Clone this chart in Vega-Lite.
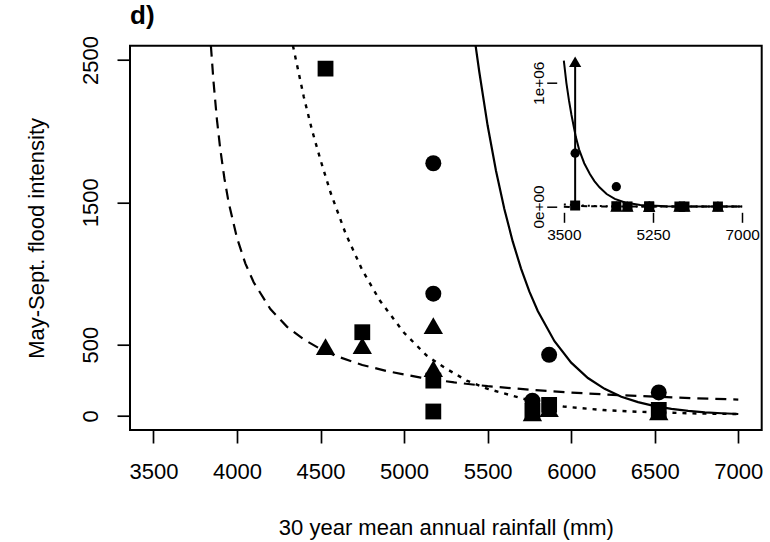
{
  "$schema": "https://vega.github.io/schema/vega-lite/v6.json",
  "width": 631.7,
  "height": 384.3,
  "autosize": {"type": "none"},
  "padding": {"left": 130, "top": 45.7, "right": 8.3, "bottom": 112},
  "background": "white",
  "title": {"text": "d)", "anchor": "start", "frame": "group", "fontSize": 26, "fontWeight": "bold", "font": "Liberation Sans", "color": "black", "baseline": "alphabetic", "offset": 9, "dy": 24},
  "config": {
    "view": {"stroke": "black", "strokeWidth": 2},
    "font": "Liberation Sans",
    "axis": {"labelFont": "Liberation Sans", "titleFont": "Liberation Sans", "labelColor": "black", "titleColor": "black", "tickColor": "black", "domain": false, "grid": false, "titleFontWeight": "normal", "labelOverlap": false}
  },
  "datasets": {
    "points": [
      {"x": 3722, "y": 431000, "g": "circle"},
      {"x": 4530, "y": 160000, "g": "circle"},
      {"x": 5175, "y": 1774, "g": "circle"},
      {"x": 5175, "y": 858, "g": "circle"},
      {"x": 5768, "y": 106, "g": "circle"},
      {"x": 5868, "y": 428, "g": "circle"},
      {"x": 6524, "y": 164, "g": "circle"},
      {"x": 3722, "y": 1170000, "g": "triangle"},
      {"x": 4530, "y": 486, "g": "triangle"},
      {"x": 4750, "y": 493, "g": "triangle"},
      {"x": 5175, "y": 634, "g": "triangle"},
      {"x": 5175, "y": 331, "g": "triangle"},
      {"x": 5768, "y": 21, "g": "triangle"},
      {"x": 5868, "y": 50, "g": "triangle"},
      {"x": 6524, "y": 28, "g": "triangle"},
      {"x": 3722, "y": 8000, "g": "square"},
      {"x": 4530, "y": 2439, "g": "square"},
      {"x": 4750, "y": 587, "g": "square"},
      {"x": 5175, "y": 247, "g": "square"},
      {"x": 5175, "y": 30, "g": "square"},
      {"x": 5768, "y": 35, "g": "square"},
      {"x": 5868, "y": 77, "g": "square"},
      {"x": 6524, "y": 42, "g": "square"}
    ],
    "dashedMain": [
      {"x": 3844, "y": 2600}, {"x": 3860, "y": 2344}, {"x": 3880, "y": 2083}, {"x": 3900, "y": 1875}, {"x": 3925, "y": 1667}, {"x": 3950, "y": 1500}, {"x": 4000, "y": 1250}, {"x": 4050, "y": 1071}, {"x": 4100, "y": 938}, {"x": 4200, "y": 750}, {"x": 4300, "y": 625}, {"x": 4400, "y": 536}, {"x": 4500, "y": 469}, {"x": 4600, "y": 417}, {"x": 4750, "y": 357}, {"x": 4900, "y": 313}, {"x": 5100, "y": 268}, {"x": 5300, "y": 234}, {"x": 5500, "y": 208}, {"x": 5750, "y": 183}, {"x": 6000, "y": 163}, {"x": 6250, "y": 147}, {"x": 6500, "y": 134}, {"x": 6750, "y": 123}, {"x": 7000, "y": 114}
    ],
    "dottedMain": [
      {"x": 4335, "y": 2600}, {"x": 4400, "y": 2240}, {"x": 4450, "y": 2003}, {"x": 4500, "y": 1797}, {"x": 4561, "y": 1565}, {"x": 4650, "y": 1281}, {"x": 4750, "y": 1023}, {"x": 4855, "y": 810}, {"x": 5000, "y": 583}, {"x": 5135, "y": 423}, {"x": 5250, "y": 332}, {"x": 5375, "y": 247}, {"x": 5500, "y": 189}, {"x": 5750, "y": 108}, {"x": 5954, "y": 65}, {"x": 6190, "y": 40}, {"x": 6400, "y": 28}, {"x": 6750, "y": 16}, {"x": 7000, "y": 12}
    ],
    "solidMain": [
      {"x": 5428, "y": 2600}, {"x": 5450, "y": 2417}, {"x": 5500, "y": 2039}, {"x": 5550, "y": 1721}, {"x": 5600, "y": 1452}, {"x": 5650, "y": 1225}, {"x": 5700, "y": 1034}, {"x": 5750, "y": 872}, {"x": 5800, "y": 736}, {"x": 5900, "y": 524}, {"x": 6000, "y": 373}, {"x": 6100, "y": 265}, {"x": 6200, "y": 189}, {"x": 6300, "y": 134}, {"x": 6400, "y": 96}, {"x": 6500, "y": 68}, {"x": 6600, "y": 48.5}, {"x": 6700, "y": 34.5}, {"x": 6800, "y": 24.5}, {"x": 6900, "y": 17.5}, {"x": 7000, "y": 12.4}
    ],
    "solidInset": [
      {"x": 3500, "y": 1180000}, {"x": 3550, "y": 1000000}, {"x": 3600, "y": 860000}, {"x": 3650, "y": 740000}, {"x": 3700, "y": 635000}, {"x": 3736, "y": 561000}, {"x": 3800, "y": 460000}, {"x": 3900, "y": 350000}, {"x": 4011, "y": 263000}, {"x": 4100, "y": 205000}, {"x": 4200, "y": 155000}, {"x": 4340, "y": 101000}, {"x": 4500, "y": 62000}, {"x": 4700, "y": 32000}, {"x": 5000, "y": 13000}, {"x": 5500, "y": 3000}, {"x": 6000, "y": 1000}, {"x": 7000, "y": 100}
    ],
    "dashedInset": [
      {"x": 3500, "y": -1900}, {"x": 3600, "y": -3750}, {"x": 3680, "y": -18750}, {"x": 3730, "y": 12500}, {"x": 3800, "y": 3750}, {"x": 4000, "y": 1250}, {"x": 5000, "y": 288}, {"x": 7000, "y": 114}
    ],
    "dottedInset": [
      {"x": 3500, "y": 17000}, {"x": 3800, "y": 8700}, {"x": 4000, "y": 5500}, {"x": 4335, "y": 2600}, {"x": 5000, "y": 583}, {"x": 7000, "y": 12}
    ],
    "vertInset": [
      {"x": 3722, "y": 0}, {"x": 3722, "y": 1170000}
    ]
  },
  "layer": [
    {
      "encoding": {
        "x": {"field": "x", "type": "quantitative", "scale": {"domain": [3360, 7140], "nice": false, "zero": false},
          "axis": {"orient": "bottom", "values": [3500, 4000, 4500, 5000, 5500, 6000, 6500, 7000], "format": "d", "tickSize": 13, "tickWidth": 1.7, "labelFontSize": 22, "labelPadding": 18.4, "labelBaseline": "top",
            "title": "30 year mean annual rainfall (mm)", "titleFontSize": 22, "titleBaseline": "alphabetic", "titleY": 104}},
        "y": {"field": "y", "type": "quantitative", "scale": {"domain": [-100, 2600], "nice": false, "zero": false},
          "axis": {"orient": "left", "values": [0, 500, 1500, 2500], "format": "d", "tickSize": 13, "tickWidth": 1.7, "labelFontSize": 22, "labelAngle": 270, "labelAlign": "center", "labelBaseline": "alphabetic", "labelPadding": 20,
            "title": "May-Sept. flood intensity", "titleFontSize": 22, "titleAngle": 270, "titleAlign": "center", "titleBaseline": "alphabetic", "titleX": -87, "titleY": 192.2}}
      },
      "layer": [
        {"data": {"name": "points"}, "transform": [{"filter": "datum.g === 'circle'"}], "mark": {"type": "point", "shape": "circle", "filled": true, "size": 256, "color": "black", "opacity": 1, "clip": true}},
        {"data": {"name": "points"}, "transform": [{"filter": "datum.g === 'triangle'"}], "mark": {"type": "point", "shape": "triangle-up", "filled": true, "size": 375, "color": "black", "opacity": 1, "clip": true}},
        {"data": {"name": "points"}, "transform": [{"filter": "datum.g === 'square'"}], "mark": {"type": "point", "shape": "square", "filled": true, "size": 250, "color": "black", "opacity": 1, "clip": true}},
        {"data": {"name": "dashedMain"}, "mark": {"type": "line", "color": "black", "strokeWidth": 2.2, "strokeDash": [11, 7], "clip": true}},
        {"data": {"name": "dottedMain"}, "mark": {"type": "line", "color": "black", "strokeWidth": 2.4, "strokeDash": [4, 6], "clip": true}},
        {"data": {"name": "solidMain"}, "mark": {"type": "line", "color": "black", "strokeWidth": 2.2, "clip": true}}
      ]
    },
    {
      "encoding": {
        "x": {"field": "x", "type": "quantitative", "scale": {"domain": [3360, 7140], "range": [426.7, 619.3], "nice": false, "zero": false},
          "axis": {"orient": "bottom", "offset": -217.7, "values": [3500, 5250, 7000], "format": "d", "tickSize": 10, "tickWidth": 1.5, "labelFontSize": 15.4, "labelPadding": 5.5, "labelBaseline": "top", "title": null}},
        "y": {"field": "y", "type": "quantitative", "scale": {"domain": [-46800, 1216800], "range": [166.6, 10.3], "nice": false, "zero": false},
          "axis": {"orient": "left", "offset": -426.7, "values": [0, 1000000], "labelExpr": "datum.value == 0 ? '0e+00' : '1e+06'", "tickSize": 10, "tickWidth": 1.5, "labelFontSize": 15.4, "labelAngle": 270, "labelAlign": "center", "labelBaseline": "alphabetic", "labelPadding": 3, "title": null}}
      },
      "layer": [
        {"data": {"values": [{}]}, "mark": {"type": "rect", "fillOpacity": 0, "stroke": "black", "strokeWidth": 2},
          "encoding": {"x": {"datum": 3360, "type": "quantitative"}, "x2": {"datum": 7140}, "y": {"datum": -46800, "type": "quantitative"}, "y2": {"datum": 1216800}}},
        {"data": {"name": "dashedInset"}, "mark": {"type": "line", "color": "black", "strokeWidth": 2, "strokeDash": [6, 4]}},
        {"data": {"name": "dottedInset"}, "mark": {"type": "line", "color": "black", "strokeWidth": 2, "strokeDash": [2, 4]}},
        {"data": {"name": "solidInset"}, "mark": {"type": "line", "color": "black", "strokeWidth": 2}},
        {"data": {"name": "vertInset"}, "mark": {"type": "line", "color": "black", "strokeWidth": 2}},
        {"data": {"name": "points"}, "transform": [{"filter": "datum.g === 'circle'"}], "mark": {"type": "point", "shape": "circle", "filled": true, "size": 86, "color": "black", "opacity": 1}},
        {"data": {"name": "points"}, "transform": [{"filter": "datum.g === 'triangle'"}], "mark": {"type": "point", "shape": "triangle-up", "filled": true, "size": 150, "color": "black", "opacity": 1}},
        {"data": {"name": "points"}, "transform": [{"filter": "datum.g === 'square'"}], "mark": {"type": "point", "shape": "square", "filled": true, "size": 100, "color": "black", "opacity": 1}}
      ]
    }
  ],
  "resolve": {"scale": {"x": "independent", "y": "independent"}, "axis": {"x": "independent", "y": "independent"}}
}
